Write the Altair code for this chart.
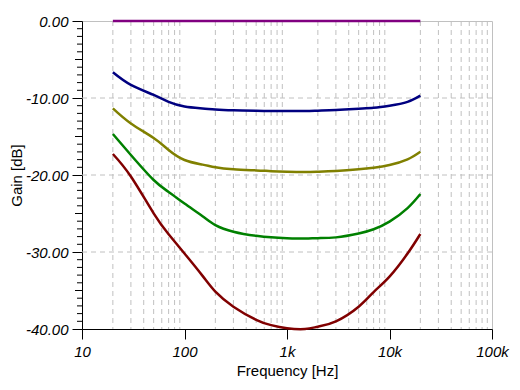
import altair as alt
import pandas as pd

freqs = [20, 30, 50, 70, 100, 150, 200, 300, 500, 700, 1000, 1500, 2000, 3000, 5000, 7000, 10000, 15000, 20000]
purple = [0.0] * len(freqs)
blue = [-6.66, -8.3, -9.6, -10.5, -11.1, -11.35, -11.5, -11.6, -11.65, -11.7, -11.7, -11.7, -11.65, -11.56, -11.4, -11.28, -11.0, -10.5, -9.7]
olive = [-11.34, -13.3, -15.2, -16.75, -18.05, -18.65, -19.0, -19.26, -19.4, -19.5, -19.57, -19.6, -19.57, -19.48, -19.26, -19.05, -18.7, -17.96, -16.97]
green = [-14.68, -17.4, -20.65, -22.2, -23.7, -25.35, -26.5, -27.36, -27.9, -28.1, -28.2, -28.25, -28.2, -28.1, -27.6, -27.05, -26.06, -24.3, -22.47]
red = [-17.27, -20.2, -24.98, -27.7, -30.2, -33.1, -35.15, -37.1, -38.8, -39.5, -39.9, -40.0, -39.7, -39.0, -37.1, -35.2, -33.2, -30.2, -27.66]

series_names = ["s1", "s2", "s3", "s4", "s5"]
series_values = [purple, blue, olive, green, red]
series_colors = ["#800080", "#000080", "#808000", "#008000", "#800000"]

x_ticks = [10, 100, 1000, 10000, 100000]
y_ticks = [0, -10, -20, -30, -40]
x_grid = [m * d for d in [10, 100, 1000, 10000] for m in range(2, 10)]
y_grid = [-10, -20, -30]
y_minor = [v for v in range(-39, 0) if v % 10 != 0 and v % 5 != 0]
y_mid = [-5, -15, -25, -35]

rows = []
for name, vals in zip(series_names, series_values):
    for f, v in zip(freqs, vals):
        rows.append({"f": f, "gain": v, "series": name})
df = pd.DataFrame(rows)

xscale = alt.Scale(type="log", domain=[10, 100000])
yscale = alt.Scale(domain=[-40, 0])

FONT = "Liberation Sans"

x_axis = alt.Axis(
    values=x_ticks, title="Frequency [Hz]", grid=False,
    labelExpr="datum.value >= 1000 ? format(datum.value/1000, 'd') + 'k' : format(datum.value, 'd')",
    tickSize=10, tickColor="black", domainColor="black", labelPadding=5,
    labelFont=FONT, labelFontSize=15, labelFontStyle="italic", labelColor="black",
    titleFont=FONT, titleFontSize=15, titleFontWeight="normal", titleColor="black",
    titlePadding=4, labelFlush=False,
)
y_axis = alt.Axis(
    values=y_ticks, title="Gain [dB]", grid=False,
    labelExpr="replace(format(datum.value, '.2f'), '\u2212', '-')",
    tickSize=10, tickColor="black", domainColor="black", labelPadding=4,
    labelFont=FONT, labelFontSize=15, labelFontStyle="italic", labelColor="black",
    titleFont=FONT, titleFontSize=15, titleFontWeight="normal", titleColor="black",
    titleX=-58, titleY=154, titleBaseline="bottom", titleAngle=270, titleAlign="center",
)

vgrid = alt.Chart(pd.DataFrame({"f": x_grid})).mark_rule(
    color="#c0c0c0", strokeDash=[5, 4], strokeWidth=1
).encode(x=alt.X("f:Q", scale=xscale, axis=x_axis))

hgrid = alt.Chart(pd.DataFrame({"g": y_grid})).mark_rule(
    color="#c0c0c0", strokeDash=[5, 4], strokeWidth=1
).encode(y=alt.Y("g:Q", scale=yscale, axis=y_axis))

lines = alt.Chart(df).mark_line(strokeWidth=2.5, interpolate="natural").encode(
    x=alt.X("f:Q", scale=xscale, axis=x_axis),
    y=alt.Y("gain:Q", scale=yscale, axis=y_axis),
    color=alt.Color("series:N", scale=alt.Scale(domain=series_names, range=series_colors), legend=None),
    detail="series:N",
)

minor = alt.Chart(pd.DataFrame({"g": y_minor})).mark_rule(color="black", strokeWidth=1).encode(
    y=alt.Y("g:Q", scale=yscale, axis=y_axis), x=alt.value(-5), x2=alt.value(0)
)
mid = alt.Chart(pd.DataFrame({"g": y_mid})).mark_rule(color="black", strokeWidth=1).encode(
    y=alt.Y("g:Q", scale=yscale, axis=y_axis), x=alt.value(-7), x2=alt.value(0)
)

chart = alt.layer(vgrid, hgrid, lines, minor, mid).properties(
    width=410, height=308,
    autosize=alt.AutoSizeParams(type="none"),
    padding={"left": 74, "top": 13, "right": 20, "bottom": 53},
).configure_view(stroke="#c0c0c0", strokeWidth=1)

chart.save("out.html", embed_options={"renderer": "svg", "actions": False})
